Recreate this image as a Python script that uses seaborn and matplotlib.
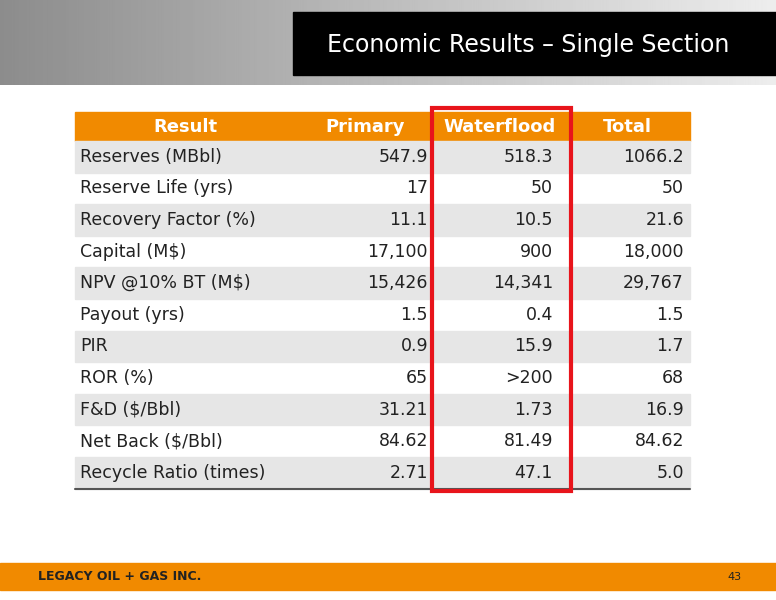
import matplotlib
matplotlib.use("Agg")
import matplotlib.pyplot as plt
import seaborn as sns
import numpy as np
from matplotlib.patches import Rectangle

sns.set_theme(style="white")
plt.rcParams['font.family'] = ['DejaVu Sans']

headers = ["Result", "Primary", "Waterflood", "Total"]
results = ["Reserves (MBbl)", "Reserve Life (yrs)", "Recovery Factor (%)", "Capital (M$)",
           "NPV @10% BT (M$)", "Payout (yrs)", "PIR", "ROR (%)", "F&D ($/Bbl)",
           "Net Back ($/Bbl)", "Recycle Ratio (times)"]
primary = ["547.9", "17", "11.1", "17,100", "15,426", "1.5", "0.9", "65", "31.21", "84.62", "2.71"]
waterflood = ["518.3", "50", "10.5", "900", "14,341", "0.4", "15.9", ">200", "1.73", "81.49", "47.1"]
total = ["1066.2", "50", "21.6", "18,000", "29,767", "1.5", "1.7", "68", "16.9", "84.62", "5.0"]

fig = plt.figure(figsize=(7.76, 6.0), dpi=100)
ax = fig.add_axes([0, 0, 1, 1])
ax.set_xlim(0, 776); ax.set_ylim(600, 0); ax.axis("off")

grad = np.tile(np.linspace(0.55, 0.93, 300), (85, 1))
ax.imshow(grad, cmap="gray", vmin=0, vmax=1, extent=(0, 776, 85, 0), aspect="auto", zorder=0)
ax.add_patch(Rectangle((293, 12), 483, 63, color="black", zorder=1))
ax.text(528, 45, "Economic Results – Single Section", color="white", fontsize=17,
        ha="center", va="center", zorder=2)

orange = "#F18A00"
x0, x1 = 75, 690
top, hh, rh = 112, 29, 31.6
ax.add_patch(Rectangle((x0, top), x1 - x0, hh, color=orange, zorder=1))
hx = [185, 365, 500, 627]
for h, x in zip(headers, hx):
    ax.text(x, top + hh / 2, h, color="white", fontsize=13, fontweight="bold",
            ha="center", va="center", zorder=2)

ys = top + hh + rh * np.arange(len(results))
for i, y in enumerate(ys):
    if i % 2 == 0:
        ax.add_patch(Rectangle((x0, y), x1 - x0, rh, color="#E6E6E6", zorder=1))
    cy = y + rh / 2
    ax.text(80, cy, results[i], fontsize=12.5, ha="left", va="center", color="#222222", zorder=2)
    ax.text(428, cy, primary[i], fontsize=12.5, ha="right", va="center", color="#222222", zorder=2)
    ax.text(553, cy, waterflood[i], fontsize=12.5, ha="right", va="center", color="#222222", zorder=2)
    ax.text(684, cy, total[i], fontsize=12.5, ha="right", va="center", color="#222222", zorder=2)
bottom = ys[-1] + rh
ax.plot([x0, x1], [bottom, bottom], color="#555555", lw=1.5, zorder=2)
ax.add_patch(Rectangle((432, 108), 139, bottom - 106, fill=False, edgecolor="#E8141B", lw=3, zorder=3))

ax.add_patch(Rectangle((0, 563), 776, 27, color=orange, zorder=1))
ax.text(38, 577, "LEGACY OIL + GAS INC.", fontsize=9, fontweight="bold", color="#222222",
        ha="left", va="center", zorder=2)
ax.text(742, 577, "43", fontsize=8, color="#222222", ha="right", va="center", zorder=2)

fig.savefig("out.png", dpi=100)
